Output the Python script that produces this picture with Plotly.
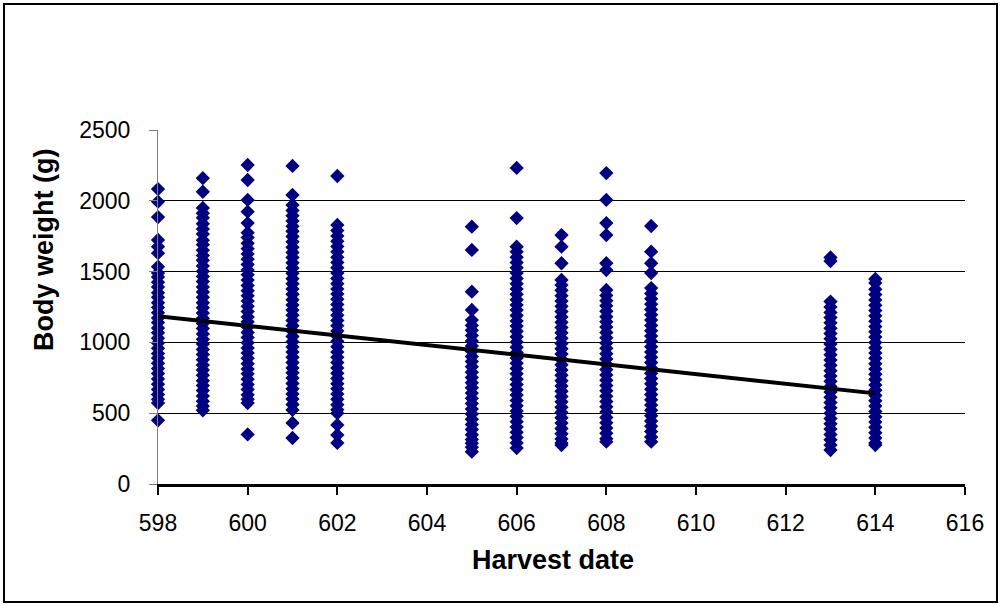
import plotly.graph_objects as go

# Harvest dates (x) and body weights (g)
dates = [598, 599, 600, 601, 602, 605, 606, 607, 608, 609, 613, 614]

w598 = [2083, 1994, 1885, 1723, 1676, 1630, 1535,
        1490, 1462, 1425, 1391, 1350, 1318, 1280, 1247, 1210, 1172, 1140, 1101, 1068, 1030,
        995, 958, 921, 889, 852, 815, 780, 742, 705, 668, 632, 598, 572, 450]
w599 = [2160, 2064,
        1950, 1912, 1880, 1838, 1801, 1765, 1722, 1690, 1651, 1613, 1580, 1540, 1502, 1466,
        1430, 1391, 1356, 1318, 1280, 1245, 1207, 1170, 1133, 1098, 1060, 1022, 988, 950,
        915, 878, 840, 805, 768, 730, 695, 660, 622, 585, 550, 520]
w600 = [2253, 2147, 2006, 1923, 1843,
        1775, 1740, 1700, 1662, 1625, 1588, 1550, 1512, 1478, 1440, 1402, 1365, 1330, 1292,
        1255, 1218, 1180, 1145, 1108, 1070, 1035, 998, 960, 925, 888, 850, 812, 778, 740,
        702, 668, 630, 598, 572, 350]
w601 = [2246, 2041,
        1970, 1932, 1895, 1858, 1820, 1785, 1748, 1710, 1672, 1635, 1600, 1562, 1525, 1488,
        1450, 1415, 1378, 1340, 1302, 1265, 1228, 1192, 1155, 1118, 1080, 1042, 1005, 968,
        932, 895, 858, 820, 785, 748, 710, 672, 636, 600, 562, 523, 431, 325]
w602 = [2175,
        1829, 1790, 1752, 1715, 1678, 1640, 1602, 1565, 1528, 1490, 1452, 1415, 1378, 1342,
        1305, 1268, 1230, 1192, 1155, 1118, 1080, 1045, 1008, 970, 932, 895, 858, 820, 782,
        745, 708, 672, 635, 598, 560, 525, 500, 417, 346, 290]
w605 = [1817, 1653, 1358, 1229,
        1158, 1120, 1085, 1048, 1010, 975, 938, 900, 865, 828, 790, 752, 715, 680, 642, 605,
        568, 530, 495, 458, 420, 385, 348, 315, 288, 260, 228]
w606 = [2232, 1878,
        1676, 1640, 1602, 1565, 1528, 1490, 1452, 1415, 1378, 1340, 1302, 1265, 1228, 1190,
        1152, 1115, 1078, 1040, 1002, 965, 928, 890, 852, 815, 778, 740, 702, 665, 628, 590,
        552, 515, 478, 440, 402, 365, 328, 290, 254]
w607 = [1758, 1676, 1559,
        1441, 1405, 1368, 1330, 1292, 1255, 1218, 1180, 1142, 1105, 1068, 1030, 992, 955,
        918, 880, 842, 805, 768, 730, 692, 655, 618, 580, 542, 505, 468, 430, 392, 355, 318,
        290, 275]
w608 = [2196, 2006, 1843, 1758, 1559, 1511,
        1370, 1332, 1295, 1258, 1220, 1182, 1145, 1108, 1070, 1032, 995, 958, 920, 882, 845,
        808, 770, 732, 695, 658, 620, 582, 545, 508, 470, 432, 395, 358, 320, 299]
w609 = [1822, 1641, 1559, 1490,
        1384, 1346, 1308, 1270, 1232, 1195, 1158, 1120, 1082, 1045, 1008, 970, 932, 895, 858,
        820, 782, 745, 708, 670, 632, 595, 558, 520, 482, 445, 408, 370, 332, 299]
w613 = [1600, 1575,
        1288, 1250, 1212, 1175, 1138, 1100, 1062, 1025, 988, 950, 912, 875, 838, 800, 762,
        725, 688, 650, 612, 575, 538, 500, 462, 425, 388, 350, 312, 275, 240]
w614 = [1448, 1420,
        1375, 1338, 1300, 1262, 1225, 1188, 1150, 1112, 1075, 1038, 1000, 962, 925, 888, 850,
        812, 775, 738, 700, 662, 625, 588, 550, 512, 475, 438, 400, 362, 325, 290, 275]

weights_by_date = [w598, w599, w600, w601, w602, w605, w606, w607, w608, w609, w613, w614]

# Linear trend line endpoints
trend_dates = [598, 614]
trend_weights = [1185, 640]

x_ticks = [598, 600, 602, 604, 606, 608, 610, 612, 614, 616]
y_ticks = [0, 500, 1000, 1500, 2000, 2500]

xs, ys = [], []
for d, ws in zip(dates, weights_by_date):
    xs.extend([d] * len(ws))
    ys.extend(ws)

FONT = "Liberation Sans, Arial, sans-serif"
W, H = 1001, 606
L, R, T, B = 158, 36, 130, 122
PW, PH = W - L - R, H - T - B

fig = go.Figure()
fig.add_trace(go.Scatter(
    x=xs, y=ys, mode="markers",
    marker=dict(symbol="diamond", size=11, color="#000080", line=dict(width=0)),
    cliponaxis=False, showlegend=False, hoverinfo="skip"))
fig.add_trace(go.Scatter(
    x=trend_dates, y=trend_weights, mode="lines",
    line=dict(color="black", width=4), showlegend=False, hoverinfo="skip"))

fig.update_layout(
    width=W, height=H,
    margin=dict(l=L, r=R, t=T, b=B),
    paper_bgcolor="white", plot_bgcolor="white",
    hovermode=False,
    font=dict(family=FONT, size=22, color="black"),
    xaxis=dict(
        range=[598, 616], tickvals=x_ticks, showgrid=False, zeroline=False,
        showline=True, linecolor="black", linewidth=3,
        ticks="outside", ticklen=8, tickwidth=2, tickcolor="black",
        ticklabelstandoff=8,
        tickfont=dict(family=FONT, size=23, color="black")),
    yaxis=dict(
        range=[0, 2500], tickvals=y_ticks, showgrid=True, gridcolor="black", gridwidth=1,
        zeroline=False, showline=True, linecolor="#808080", linewidth=1,
        ticks="outside", ticklen=8, tickwidth=1, tickcolor="#808080",
        ticklabelstandoff=14,
        tickfont=dict(family=FONT, size=23, color="black")),
    annotations=[
        dict(text="<b>Harvest date</b>", xref="paper", yref="paper",
             x=(553 - L) / PW, y=(H - B - 560) / PH, xanchor="center", yanchor="middle",
             showarrow=False, font=dict(family=FONT, size=27, color="black")),
        dict(text="<b>Body weight (g)</b>", xref="paper", yref="paper", textangle=-90,
             x=(44 - L) / PW, y=(H - B - 250) / PH, xanchor="center", yanchor="middle",
             showarrow=False, font=dict(family=FONT, size=27, color="black")),
    ],
    shapes=[dict(type="rect", xref="paper", yref="paper",
                 x0=(4 - L) / PW, x1=(997 - L) / PW,
                 y0=(H - B - 602) / PH, y1=(H - B - 4) / PH,
                 line=dict(color="black", width=2), fillcolor="rgba(0,0,0,0)", layer="below")],
)

fig.write_html("out.html", config={"displayModeBar": False, "staticPlot": True},
               post_script="document.body.style.margin='0px';")
